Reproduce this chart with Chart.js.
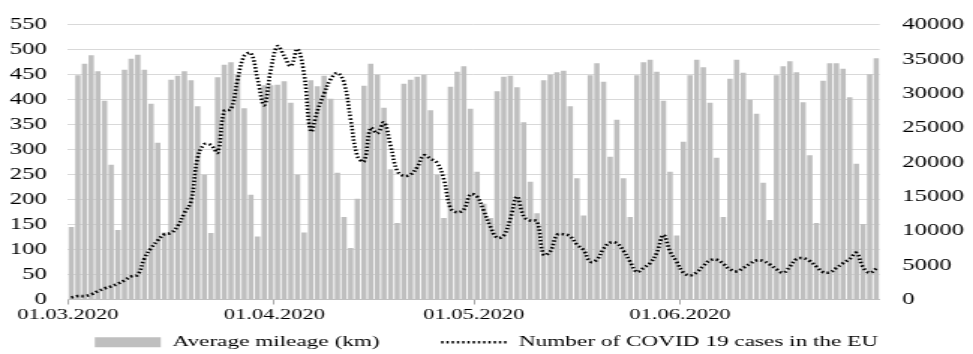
<!DOCTYPE html>
<html>
<head>
<meta charset="utf-8">
<script src="https://cdn.jsdelivr.net/npm/chart.js@4.4.1/dist/chart.umd.min.js"></script>
<style>
  html, body { margin: 0; padding: 0; background: #fff; overflow: hidden; }
  /* the source figure is stretched sideways, so the chart is drawn narrow and widened */
  #wrap { width: 649px; height: 360px; transform: scaleX(1.4993); transform-origin: 0 0; }
</style>
</head>
<body>
<div id="wrap"><canvas id="myChart" width="649" height="360"></canvas></div>
<script>
// average mileage per day (km), 01.03.2020 - 30.06.2020
const mileage = [
	145, 449, 472, 489, 457, 398, 270, 139, 460, 482,
	490, 460, 392, 314, 134, 440, 448, 457, 439, 387,
	250, 133, 445, 470, 475, 450, 383, 210, 126, 429,
	429, 430, 437, 394, 250, 134, 439, 427, 448, 402,
	254, 165, 103, 202, 428, 472, 450, 384, 261, 153,
	432, 440, 446, 450, 379, 250, 163, 426, 456, 467,
	382, 256, 192, 163, 417, 446, 448, 425, 355, 236,
	173, 439, 450, 455, 458, 387, 243, 168, 449, 473,
	436, 286, 360, 243, 165, 449, 475, 480, 456, 398,
	256, 128, 316, 449, 480, 465, 394, 284, 165, 442,
	480, 454, 400, 372, 234, 159, 449, 467, 477, 455,
	395, 289, 153, 438, 473, 473, 462, 405, 272, 151,
	451, 483
];

// number of covid 19 cases in the EU
const covidCases = [
	300, 500, 500, 750, 1200, 1600, 1900, 2300, 2800, 3350,
	3600, 6000, 7500, 8600, 9500, 9700, 10700, 12600, 14300, 20700,
	22600, 22500, 21400, 27500, 27700, 32000, 35500, 35900, 32100, 28300,
	33500, 36900, 35500, 34000, 36500, 32800, 24500, 27500, 30000, 32100,
	33000, 31600, 26200, 20900, 20100, 25000, 24200, 25800, 22400, 18700,
	18000, 18200, 19300, 21000, 20500, 19900, 17500, 13300, 12700, 13100,
	15300, 15000, 12900, 10600, 9000, 9300, 11800, 15000, 12100, 11500,
	11400, 6500, 7000, 9400, 9500, 9200, 8000, 7200, 5500, 5800,
	7400, 8300, 8200, 7100, 5500, 4000, 4600, 5300, 6800, 9400,
	7000, 5500, 3900, 3500, 3950, 4900, 5700, 5800, 5200, 4400,
	4100, 4600, 5200, 5700, 5600, 5100, 4400, 3900, 4800, 5900,
	6000, 5600, 4800, 4000, 3950, 4600, 5300, 5900, 6800, 4700,
	3900, 4500
];

const tickLabels = ["01.03.2020", "01.04.2020", "01.05.2020", "01.06.2020"];

// one category per day
let days = [];
for (let i = 0; i < mileage.length; i++) {
	let d = new Date(2020, 2, 1 + i);
	let dd = String(d.getDate()).padStart(2, "0");
	let mm = String(d.getMonth() + 1).padStart(2, "0");
	days.push(`${dd}.${mm}.${d.getFullYear()}`);
}

function isTick(i) {
	return tickLabels.includes(days[i]) || i === days.length;
}

const serif = "'Liberation Serif', 'Times New Roman', serif";

// line item gets its dots in the legend, and a wider gap after the first item
function legendItems(chart) {
	let items = Chart.defaults.plugins.legend.labels.generateLabels(chart);
	items.forEach(it => {
		let ds = chart.data.datasets[it.datasetIndex];
		if (ds.type === "line") {
			it.lineDash = ds.borderDash;
			it.lineWidth = ds.borderWidth;
			it.strokeStyle = ds.borderColor;
		} else {
			it.text = ds.label + "\u2003\u2003";
		}
	});
	return items;
}

let ctx = document.getElementById("myChart").getContext("2d");
new Chart(ctx, {
	type: "bar",
	data: {
		labels: days,
		datasets: [{
			type: "bar",
			label: "Average mileage (km)",
			data: mileage,
			backgroundColor: "#bfbfbf",
			borderWidth: 0,
			barPercentage: 0.8,
			categoryPercentage: 1,
			yAxisID: "y",
			order: 1,
			pointStyle: "rect"
		}, {
			type: "line",
			label: "Number of COVID 19 cases in the EU",
			data: covidCases,
			borderColor: "#000",
			backgroundColor: "#000",
			borderWidth: 2.6,
			borderDash: [1.5, 2.0],
			pointRadius: 0,
			tension: 0.4,
			yAxisID: "y1",
			order: 0,
			pointStyle: "line"
		}]
	},
	options: {
		responsive: false,
		animation: false,
		layout: { padding: { top: 13, left: 0, right: 0, bottom: 0 } },
		plugins: {
			tooltip: { enabled: false },
			legend: {
				position: "bottom",
				labels: {
					usePointStyle: true,
					pointStyleWidth: 44,
					boxHeight: 10,
					padding: 10,
					color: "#000",
					font: { family: serif, size: 15.5 },
					generateLabels: legendItems,
					sort: (a, b) => a.datasetIndex - b.datasetIndex
				}
			}
		},
		scales: {
			x: {
				grid: {
					offset: true,
					drawOnChartArea: false,
					tickLength: 5,
					color: c => isTick(c.index) ? "#a6a6a6" : "rgba(0,0,0,0)"
				},
				border: { color: "#bfbfbf" },
				ticks: {
					autoSkip: false,
					maxRotation: 0,
					labelOffset: -2.2,
					padding: 2,
					color: "#000",
					font: { family: serif, size: 15 },
					callback: (v, i) => tickLabels.includes(days[i]) ? days[i] : ""
				},
				afterFit: s => { s.height -= 2; }
			},
			y: {
				position: "left",
				min: 0,
				max: 550,
				ticks: {
					stepSize: 50,
					padding: 14,
					color: "#000",
					font: { family: serif, size: 16.5 }
				},
				grid: { color: "#d9d9d9", drawTicks: false },
				border: { display: false },
				afterFit: s => { s.width = 45.3; }
			},
			y1: {
				position: "right",
				min: 0,
				max: 40000,
				ticks: {
					stepSize: 5000,
					padding: 15,
					color: "#000",
					font: { family: serif, size: 16.5 },
					callback: v => String(v)
				},
				grid: { drawOnChartArea: false, drawTicks: false },
				border: { display: false },
				afterFit: s => { s.width = 62.3; }
			}
		}
	}
});
</script>
</body>
</html>
